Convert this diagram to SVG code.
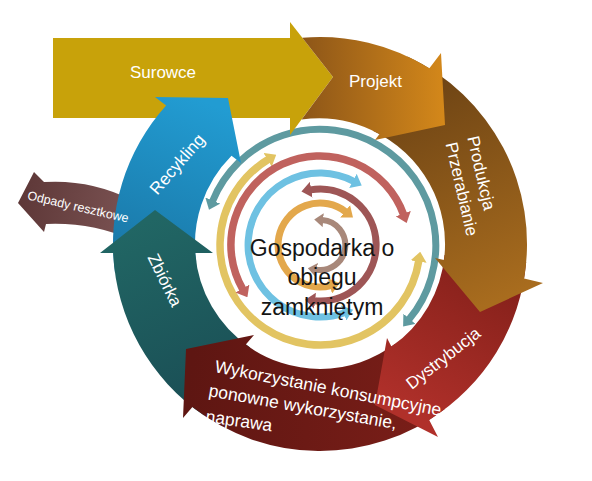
<svg xmlns="http://www.w3.org/2000/svg" width="592" height="481" viewBox="0 0 592 481">
<style>
.lbl{font-family:"Liberation Sans",Arial,sans-serif;fill:#fff;font-size:17px}
.ctr{font-family:"Liberation Sans",Arial,sans-serif;fill:#141414;font-size:23px;text-anchor:middle}
.ring{fill:none;stroke-linecap:butt}
</style>
<defs>
<linearGradient id="gProj" gradientUnits="userSpaceOnUse" x1="300" y1="80" x2="445" y2="80"><stop offset="0" stop-color="#8C5518"/><stop offset="1" stop-color="#D4881A"/></linearGradient>
<linearGradient id="gProd" gradientUnits="userSpaceOnUse" x1="420" y1="70" x2="520" y2="290"><stop offset="0" stop-color="#6B4214"/><stop offset="1" stop-color="#A86C1E"/></linearGradient>
<linearGradient id="gDys" gradientUnits="userSpaceOnUse" x1="500" y1="270" x2="420" y2="420"><stop offset="0" stop-color="#84201A"/><stop offset="1" stop-color="#B0302A"/></linearGradient>
<linearGradient id="gWyk" gradientUnits="userSpaceOnUse" x1="430" y1="400" x2="190" y2="380"><stop offset="0" stop-color="#7A1E18"/><stop offset="1" stop-color="#5E1612"/></linearGradient>
<linearGradient id="gZb" gradientUnits="userSpaceOnUse" x1="150" y1="220" x2="220" y2="400"><stop offset="0" stop-color="#216664"/><stop offset="1" stop-color="#1A4E55"/></linearGradient>
<linearGradient id="gRec" gradientUnits="userSpaceOnUse" x1="200" y1="100" x2="140" y2="260"><stop offset="0" stop-color="#229CD2"/><stop offset="1" stop-color="#1A78A8"/></linearGradient>
<linearGradient id="gOdp" gradientUnits="userSpaceOnUse" x1="20" y1="200" x2="130" y2="215"><stop offset="0" stop-color="#5E3838"/><stop offset="1" stop-color="#7A5252"/></linearGradient>
<marker id="mTeal" viewBox="0 0 10 16" refX="1" refY="8" markerWidth="10" markerHeight="16" markerUnits="userSpaceOnUse" orient="auto-start-reverse"><path d="M0,0 L10,8 L0,16 Z" fill="#5E9AA0"/></marker>
<marker id="mYel" viewBox="0 0 10 16" refX="1" refY="8" markerWidth="10" markerHeight="16" markerUnits="userSpaceOnUse" orient="auto-start-reverse"><path d="M0,0 L10,8 L0,16 Z" fill="#E2C462"/></marker>
<marker id="mRed" viewBox="0 0 10 16" refX="1" refY="8" markerWidth="10" markerHeight="16" markerUnits="userSpaceOnUse" orient="auto-start-reverse"><path d="M0,0 L10,8 L0,16 Z" fill="#C0625E"/></marker>
<marker id="mBlue" viewBox="0 0 10 16" refX="1" refY="8" markerWidth="10" markerHeight="16" markerUnits="userSpaceOnUse" orient="auto-start-reverse"><path d="M0,0 L10,8 L0,16 Z" fill="#6EC1E2"/></marker>
<marker id="mDred" viewBox="0 0 10 16" refX="1" refY="8" markerWidth="10" markerHeight="16" markerUnits="userSpaceOnUse" orient="auto-start-reverse"><path d="M0,0 L10,8 L0,16 Z" fill="#9E5656"/></marker>
<marker id="mOra" viewBox="0 0 10 16" refX="1" refY="8" markerWidth="10" markerHeight="16" markerUnits="userSpaceOnUse" orient="auto-start-reverse"><path d="M0,0 L10,8 L0,16 Z" fill="#E3A84C"/></marker>
<marker id="mTau" viewBox="0 0 9 14" refX="1" refY="7" markerWidth="9" markerHeight="14" markerUnits="userSpaceOnUse" orient="auto-start-reverse"><path d="M0,0 L9,7 L0,14 Z" fill="#A8887A"/></marker>
</defs>
<rect width="592" height="481" fill="#fff"/>

<g id="connectors">
<path class="ring" stroke="#5E9AA0" stroke-width="7" d="M212.4,201.5 A116 116 0 1 1 408.9,319.6" marker-start="url(#mTeal)" marker-end="url(#mTeal)"/>
<path class="ring" stroke="#E2C462" stroke-width="7.5" d="M268.5,159.3 A100 100 0 1 0 418.8,260.6" marker-start="url(#mYel)" marker-end="url(#mYel)"/>
<path class="ring" stroke="#C0625E" stroke-width="7.5" d="M242.9,289.5 A89 89 0 1 1 403.6,214.6" marker-start="url(#mRed)" marker-end="url(#mRed)"/>
<path class="ring" stroke="#6EC1E2" stroke-width="7" d="M353.8,181.4 A72 72 0 1 0 344.6,312.7" marker-start="url(#mBlue)" marker-end="url(#mBlue)"/>
<path class="ring" stroke="#9E5656" stroke-width="7" d="M310.3,189.9 A56 56 0 1 1 314.1,300.7" marker-start="url(#mDred)" marker-end="url(#mDred)"/>
<path class="ring" stroke="#E3A84C" stroke-width="7" d="M345.9,211.9 A42 42 0 1 0 330.9,285.6" marker-start="url(#mOra)" marker-end="url(#mOra)"/>
<path class="ring" stroke="#A8887A" stroke-width="6" d="M322.2,220.1 A25 25 0 1 1 315.7,269.6" marker-start="url(#mTau)" marker-end="url(#mTau)"/>
</g>

<g id="odpady">
<path d="M44,182 Q 90,179 132,200 L132,240 Q 92,222 46,224 L44,232 L18,203 L34,172 Z" fill="url(#gOdp)"/>
</g>

<g id="surowce">
<rect x="53" y="38" width="238" height="80" fill="#C8A20A"/>
<path d="M290,22 L333,77 L290,135 Z" fill="#C8A20A"/>
<text class="lbl" x="163" y="78" text-anchor="middle">Surowce</text>
</g>

<g id="recykling">
<path d="M115,272.8 A207 207 0 0 1 166.1,105.5 L155,97 L228,98 L241,163 L231.5,155.7 A125 125 0 0 0 196.2,261.4 Z" fill="url(#gRec)"/>
<text class="lbl" text-anchor="middle" transform="translate(177,164) rotate(-49)" y="6">Recykling</text>
</g>

<g id="zbiorka">
<path d="M204.2,415.6 A207 207 0 0 1 113.2,253 L100,253 L155,210 L213,253 L195.3,253 A125 125 0 0 0 250.1,347.6 Z" fill="url(#gZb)"/>
<text class="lbl" text-anchor="middle" transform="translate(165,280) rotate(64)" y="6">Zbiórka</text>
</g>

<g id="wykorzystanie">
<path d="M444.6,409.3 A207 207 0 0 1 192.4,407 L183,418 L186,349 L254,335 L245.8,344.6 A125 125 0 0 0 395.2,343.8 Z" fill="url(#gWyk)"/>
</g>

<g id="dystrybucja">
<path d="M526.2,262 A207 207 0 0 1 429.2,419.9 L438,437 L375,405 L387,338 L391.4,346.6 A125 125 0 0 0 444.5,254.9 Z" fill="url(#gDys)"/>
<text class="lbl" text-anchor="middle" transform="translate(443,358) rotate(-38)" y="6">Dystrybucja</text>
</g>

<g id="produkcja">
<path d="M407.5,56.4 A207 207 0 0 1 524.1,278.6 L543,283 L480,312 L435,258 L444,260.1 A125 125 0 0 0 372.8,130.7 Z" fill="url(#gProd)"/>
<text class="lbl" text-anchor="middle" transform="translate(481.5,173) rotate(77)" y="6">Produkcja</text>
<text class="lbl" text-anchor="middle" transform="translate(462,189) rotate(77)" y="6">Przerabianie</text>
</g>

<g id="projekt">
<path d="M302.3,37.8 A207 207 0 0 1 429.4,68.3 L441,53 L445,125 L375,140 L379.5,134.1 A125 125 0 0 0 301.6,119.4 L333,77 Z" fill="url(#gProj)"/>
<text class="lbl" x="375.5" y="87" text-anchor="middle">Projekt</text>
</g>

<g id="odpady-label">
<text class="lbl" style="font-size:12.5px" text-anchor="middle" transform="translate(78,207) rotate(13)" y="4">Odpady resztkowe</text>
</g>

<g id="wykorzystanie-label">
<text class="lbl" style="font-size:17.5px" transform="translate(214,372) rotate(11)">Wykorzystanie konsumpcyjne,</text>
<text class="lbl" style="font-size:17.5px" transform="translate(208,396) rotate(10)">ponowne wykorzystanie,</text>
<text class="lbl" style="font-size:17.5px" transform="translate(205,422) rotate(8)">naprawa</text>
</g>

<g id="center">
<text class="ctr" x="322" y="256">Gospodarka o</text>
<text class="ctr" x="322" y="285">obiegu</text>
<text class="ctr" x="322" y="315">zamkniętym</text>
</g>
</svg>
